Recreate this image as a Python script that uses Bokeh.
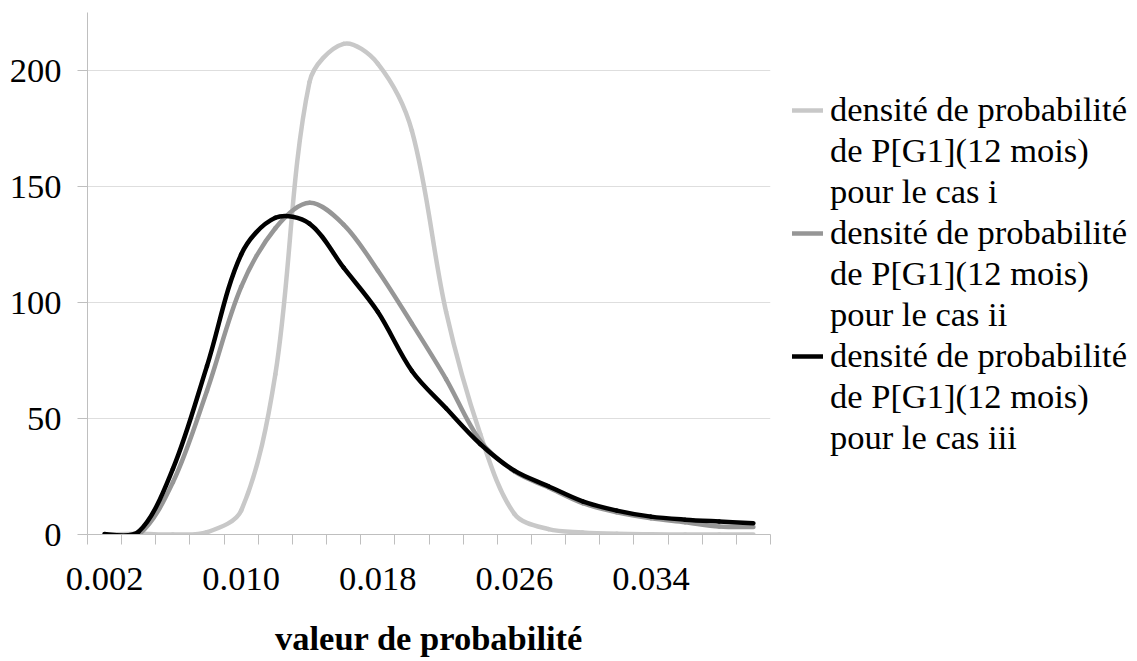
import math
from bokeh.plotting import figure
from bokeh.models import Range1d, FixedTicker, PrintfTickFormatter, Legend, LegendItem
from bokeh.embed import file_html
from bokeh.resources import INLINE

# ---- data ----
x_values = [0.002, 0.004, 0.006, 0.008, 0.010, 0.012, 0.014, 0.016, 0.018, 0.020,
            0.022, 0.024, 0.026, 0.028, 0.030, 0.032, 0.034, 0.036, 0.038, 0.040]
cas_i = [0.0, 0.3, 0.0, 1.0, 10.3, 69.0, 195.0, 211.5, 203.0, 174.0,
         96.0, 43.3, 8.9, 2.3, 0.9, 0.3, 0.1, 0.0, 0.0, 0.0]
cas_ii = [0.0, 0.0, 22.5, 62.0, 106.7, 132.0, 143.0, 133.6, 113.8, 90.9,
          67.0, 40.4, 27.2, 20.3, 13.5, 9.6, 7.0, 5.3, 3.4, 3.2]
cas_iii = [0.2, 1.2, 28.3, 72.7, 120.7, 136.5, 134.0, 115.0, 96.0, 70.5,
           54.4, 39.0, 27.5, 20.8, 14.3, 10.3, 7.7, 6.4, 5.6, 4.9]
x_tick_labels = ["0.002", "0.010", "0.018", "0.026", "0.034"]
y_ticks = [0, 50, 100, 150, 200]
series_labels = [
    "densité de probabilité\nde P[G1](12 mois)\npour le cas i",
    "densité de probabilité\nde P[G1](12 mois)\npour le cas ii",
    "densité de probabilité\nde P[G1](12 mois)\npour le cas iii",
]
series_colors = ["#c8c8c8", "#969696", "#000000"]

FONT = "Liberation Serif"
FS = "34.5px"
FRAME_W, FRAME_H = 683, 522
Y_MAX = 225

step = x_values[1] - x_values[0]
boundaries = [x_values[0] - step / 2 + k * step for k in range(len(x_values) + 1)]

p = figure(frame_width=FRAME_W, frame_height=FRAME_H,
           min_border_left=87, min_border_right=365, min_border_top=12,
           x_range=Range1d(boundaries[0], boundaries[-1]), y_range=Range1d(0, Y_MAX),
           output_backend="svg", toolbar_location=None)
p.outline_line_color = None
p.background_fill_color = "white"

# axes
xa = p.xaxis[0]
xa.ticker = FixedTicker(ticks=[float(s) for s in x_tick_labels], minor_ticks=boundaries)
xa.formatter = PrintfTickFormatter(format="%.3f")
xa.major_tick_line_color = None
xa.major_tick_out = 0
xa.major_tick_in = 0
xa.minor_tick_line_color = "#bfbfbf"
xa.minor_tick_out = 10
xa.minor_tick_in = 0
xa.axis_line_color = "#bfbfbf"
xa.major_label_text_font = FONT
xa.major_label_text_font_size = FS
xa.major_label_text_color = "black"
xa.major_label_standoff = 23
xa.axis_label = "valeur de probabilité"
xa.axis_label_text_font = FONT
xa.axis_label_text_font_size = FS
xa.axis_label_text_font_style = "bold"
xa.axis_label_text_color = "black"
xa.axis_label_standoff = 26

ya = p.yaxis[0]
ya.ticker = FixedTicker(ticks=y_ticks, minor_ticks=[])
ya.major_tick_line_color = "#bfbfbf"
ya.major_tick_out = 10
ya.major_tick_in = 0
ya.minor_tick_line_color = None
ya.axis_line_color = "#bfbfbf"
ya.major_label_text_font = FONT
ya.major_label_text_font_size = FS
ya.major_label_text_color = "black"
ya.major_label_standoff = 16

p.xgrid.visible = False
p.ygrid.ticker = FixedTicker(ticks=y_ticks)
p.ygrid.grid_line_color = "#dedede"

# pixel scale factors (used only to weigh the smoothing arms, like a spreadsheet's smoothed line)
kx = FRAME_W / (boundaries[-1] - boundaries[0])
ky = FRAME_H / Y_MAX


def smooth(xs, ys):
    n = len(xs)

    def dist(a, b):
        return math.hypot((xs[b] - xs[a]) * kx, (ys[b] - ys[a]) * ky)

    def arms(i):
        a = max(i - 1, 0)
        b = min(i + 1, n - 1)
        tx, ty = xs[b] - xs[a], ys[b] - ys[a]
        d1 = dist(a, i) if i > 0 else 0.0
        d2 = dist(i, b) if i < n - 1 else 0.0
        s = d1 + d2 if d1 + d2 > 0 else 1.0
        f = 1.0 / 3.0
        if i == 0 or i == n - 1:
            f = 1.0 / 6.0
            d1 = d2 = s / 2
        fwd = (xs[i] + tx * f * d2 / s, ys[i] + ty * f * d2 / s)
        back = (xs[i] - tx * f * d1 / s, ys[i] - ty * f * d1 / s)
        return back, fwd

    out = {k: [] for k in ("x0", "y0", "x1", "y1", "cx0", "cy0", "cx1", "cy1")}
    for k in range(n - 1):
        _, f0 = arms(k)
        b1, _ = arms(k + 1)
        out["x0"].append(xs[k]); out["y0"].append(ys[k])
        out["x1"].append(xs[k + 1]); out["y1"].append(ys[k + 1])
        out["cx0"].append(f0[0]); out["cy0"].append(f0[1])
        out["cx1"].append(b1[0]); out["cy1"].append(b1[1])
    return out


# an empty, invisible renderer used only for the continuation lines of the legend labels
blank = p.line(x=[], y=[], line_alpha=0)

items = []
for ys, col, lab in zip([cas_i, cas_ii, cas_iii], series_colors, series_labels):
    seg = smooth(x_values, ys)
    r = p.bezier(line_color=col, line_width=4.5, line_cap="round", **seg)
    lines = lab.split("\n")
    items.append(LegendItem(label=lines[0], renderers=[r]))
    for extra in lines[1:]:
        items.append(LegendItem(label=extra, renderers=[blank]))

legend = Legend(items=items, location=(22, 77))
legend.label_text_font = FONT
legend.label_text_font_size = FS
legend.label_text_color = "black"
legend.glyph_width = 31
legend.label_standoff = 7
legend.spacing = 2
legend.padding = 0
legend.margin = 0
legend.border_line_color = None
legend.background_fill_alpha = 0
p.add_layout(legend, "right")

open("out.html", "w").write(file_html(p, INLINE))
